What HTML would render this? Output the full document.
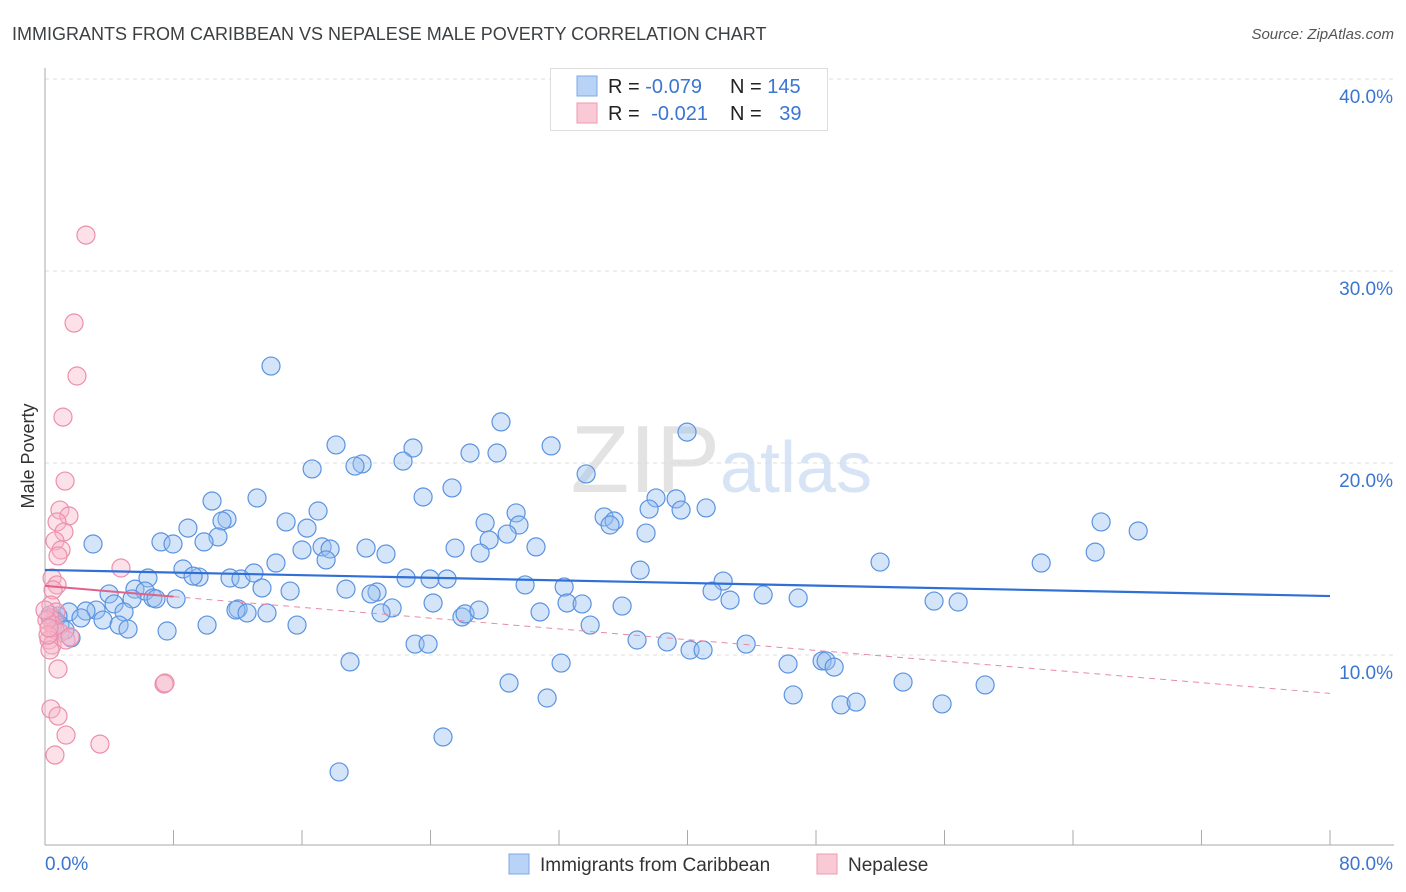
<!DOCTYPE html>
<html><head><meta charset="utf-8">
<style>
body{margin:0;background:#fff;font-family:"Liberation Sans",sans-serif;}
#wrap{position:relative;width:1406px;height:892px;overflow:hidden;}
svg text{font-family:"Liberation Sans",sans-serif;}
</style></head>
<body>
<div id="wrap">
<svg id="chart" width="1406" height="892">
  <text x="12" y="40" font-size="18" fill="#3c4043">IMMIGRANTS FROM CARIBBEAN VS NEPALESE MALE POVERTY CORRELATION CHART</text>
  <text x="1394" y="39" font-size="15" font-style="italic" fill="#555" text-anchor="end">Source: ZipAtlas.com</text>
  <text x="720" y="492" font-size="96" fill="#e3e3e3" text-anchor="end" font-family="Liberation Serif">ZIP</text>
  <text x="720" y="492" font-size="72" fill="#d6e4f5">atlas</text>
  <text transform="translate(34,456) rotate(-90)" font-size="18" fill="#333" text-anchor="middle">Male Poverty</text>
  <g id="grid"></g>
  <g id="axes"></g>
  <g id="pts"></g>
  <g id="trends"></g>
  <g>
    <rect x="550.5" y="68.5" width="277" height="62" fill="#fff" stroke="#ddd"/>
    <rect x="577" y="76" width="20" height="20" fill="#b8d3f5" stroke="#7fa9e6"/>
    <rect x="577" y="103" width="20" height="20" fill="#f9c9d6" stroke="#ee9ab2"/>
    <text x="608" y="93" font-size="20" fill="#222">R = <tspan fill="#3a75d1">-0.079</tspan></text>
    <text x="730" y="93" font-size="20" fill="#222">N = <tspan fill="#3a75d1">145</tspan></text>
    <text x="608" y="120" font-size="20" fill="#222">R = <tspan fill="#3a75d1" dx="6">-0.021</tspan></text>
    <text x="730" y="120" font-size="20" fill="#222">N = <tspan fill="#3a75d1" dx="12">39</tspan></text>
  </g>
  <g>
    <rect x="509" y="854" width="20" height="20" fill="#b8d3f5" stroke="#7fa9e6"/>
    <text x="540" y="871" font-size="19" fill="#333">Immigrants from Caribbean</text>
    <rect x="817" y="854" width="20" height="20" fill="#f9c9d6" stroke="#ee9ab2"/>
    <text x="848" y="871" font-size="19" fill="#333">Nepalese</text>
  </g>
</svg>
</div>
<script>
const xTickLabels=["0.0%","80.0%"];
const yTicks=[10,20,30,40];
const yTickLabels=["10.0%","20.0%","30.0%","40.0%"];
const caribX=[14.07,28.39,39.97,18.12,31.51,22.91,26.46,28.14,22.29,19.74,19.30,16.63,33.69,25.34,10.40,13.20,23.54,38.04,39.29,29.33,37.61,41.16,39.60,34.81,35.43,35.18,17.00,11.33,11.02,15.01,27.40,29.51,16.31,8.90,10.77,37.42,9.90,7.22,7.97,2.99,27.65,28.77,30.57,19.99,16.00,17.25,17.75,25.53,21.23,27.09,17.50,14.38,8.59,51.99,62.02,65.38,65.75,68.06,37.05,6.41,9.59,9.22,11.52,12.20,13.01,22.48,23.97,25.03,29.89,42.22,32.32,18.74,15.26,20.67,20.30,13.51,5.60,6.23,3.99,6.72,6.91,8.16,5.42,4.30,3.18,2.55,12.02,24.16,32.50,33.44,35.93,41.53,42.65,44.71,46.89,55.35,56.85,11.89,12.58,13.82,21.61,20.92,25.96,26.15,27.02,30.82,1.49,0.81,2.24,3.61,4.92,4.61,5.17,10.09,15.69,33.94,36.86,38.73,40.16,40.97,43.65,23.04,23.85,7.60,1.62,18.99,32.13,46.26,48.38,48.63,49.13,28.89,53.42,58.53,31.26,46.58,49.56,50.50,55.85,24.78,18.31,0.62,0.93,1.25,0.31];
const caribY=[25.05,22.14,21.61,20.94,20.89,20.78,20.52,20.52,20.10,19.95,19.84,19.69,19.43,18.70,18.02,18.18,18.23,18.18,18.13,17.40,17.60,17.66,17.55,17.19,16.98,16.77,17.50,17.08,16.98,16.93,16.88,16.77,16.61,16.61,16.15,16.35,15.89,15.89,15.78,15.78,15.99,16.30,15.63,15.57,15.47,15.63,15.52,15.57,15.26,15.31,14.95,14.79,14.48,14.84,14.79,15.36,16.93,16.46,14.42,14.01,14.06,14.11,14.01,13.96,14.27,14.01,13.96,13.96,13.65,13.85,13.54,13.43,13.33,13.28,13.18,13.49,13.43,13.33,13.18,12.97,12.92,12.92,12.92,12.66,12.34,12.29,12.40,12.71,12.71,12.66,12.55,13.33,12.86,13.13,12.97,12.81,12.76,12.34,12.19,12.19,12.45,12.19,11.98,12.14,12.34,12.24,12.24,12.03,11.93,11.82,12.24,11.56,11.35,11.56,11.56,11.56,10.78,10.68,10.26,10.26,10.57,10.57,10.57,11.25,10.89,9.64,9.58,9.53,9.69,9.69,9.37,8.54,8.59,8.44,7.76,7.92,7.40,7.55,7.45,5.73,3.91,11.82,11.56,11.30,12.08];
const nepX=[2.55,1.81,1.99,1.12,1.25,0.93,1.49,0.75,1.18,0.62,1.00,0.81,4.73,0.44,0.75,0.50,0.37,0.68,0.31,0.50,0.62,0.93,0.25,0.44,1.31,0.31,0.81,7.41,7.47,0.37,0.81,1.31,3.42,0.62,0.12,0.19,0.25,1.56,0.00];
const nepY=[31.87,27.29,24.53,22.39,19.06,17.55,17.24,16.93,16.41,15.94,15.47,15.16,14.53,14.01,13.65,13.39,12.60,12.24,11.93,11.56,11.30,11.15,10.78,10.52,10.78,10.26,9.27,8.49,8.54,7.19,6.82,5.83,5.36,4.79,11.82,11.04,11.41,10.94,12.34];
const caribTrend=[14.43,13.07];
const nepTrend=[13.6,8.0];
const nepSolidEnd=8;

const NS="http://www.w3.org/2000/svg";
const X0=45,X1=1330,Y0=847,PXPER=19.2;
function sx(v){return X0+(v/80)*(X1-X0);}
function sy(v){return Y0-v*PXPER;}
function mk(tag,attrs,parent){const e=document.createElementNS(NS,tag);for(const k in attrs)e.setAttribute(k,attrs[k]);parent.appendChild(e);return e;}

const grid=document.getElementById('grid');
yTicks.forEach((t,i)=>{
  const l=mk('line',{x1:X0,x2:1394,y1:sy(t),y2:sy(t),stroke:'#ddd','stroke-dasharray':'4,4'},grid);
  
  
  const tx=mk('text',{x:1393,y:sy(t)+24,'font-size':19,fill:'#3a75d1','text-anchor':'end'},grid);
  tx.textContent=yTickLabels[i];
  
  
});
const axes=document.getElementById('axes');
let a=mk('line',{x1:X0,x2:X0,y1:68,y2:845,stroke:'#aaa'},axes);


a=mk('line',{x1:X0,x2:1394,y1:845,y2:845,stroke:'#aaa'},axes);


for(let i=0;i<=10;i++){
  const tk=mk('line',{x1:sx(i*8),x2:sx(i*8),y1:830,y2:845,stroke:'#aaa'},axes);
  
  
}
let xl=mk('text',{x:45,y:870,'font-size':19,fill:'#3a75d1'},axes);
xl.textContent=xTickLabels[0];


xl=mk('text',{x:1393,y:870,'font-size':19,fill:'#3a75d1','text-anchor':'end'},axes);
xl.textContent=xTickLabels[1];



const pts=document.getElementById('pts');
caribX.forEach((x,i)=>{
  const c=mk('circle',{cx:sx(x),cy:sy(caribY[i]),r:9,fill:'rgba(150,190,240,0.4)',stroke:'#5b93e0','stroke-width':1.2},pts);
  
  
});
nepX.forEach((x,i)=>{
  const c=mk('circle',{cx:sx(x),cy:sy(nepY[i]),r:9,fill:'rgba(248,180,200,0.4)',stroke:'#ec8fac','stroke-width':1.2},pts);
  
  
});
const tr=document.getElementById('trends');
let t=mk('line',{x1:sx(0),y1:sy(caribTrend[0]),x2:sx(80),y2:sy(caribTrend[1]),stroke:'#2f6fd6','stroke-width':2.2},tr);


const nepAt=v=>nepTrend[0]+(nepTrend[1]-nepTrend[0])*v/80;
t=mk('line',{x1:sx(0),y1:sy(nepTrend[0]),x2:sx(nepSolidEnd),y2:sy(nepAt(nepSolidEnd)),stroke:'#e0628a','stroke-width':2},tr);


t=mk('line',{x1:sx(nepSolidEnd),y1:sy(nepAt(nepSolidEnd)),x2:sx(80),y2:sy(nepTrend[1]),stroke:'#e88aa8','stroke-width':1,'stroke-dasharray':'6,5'},tr);


</script>
</body></html>
